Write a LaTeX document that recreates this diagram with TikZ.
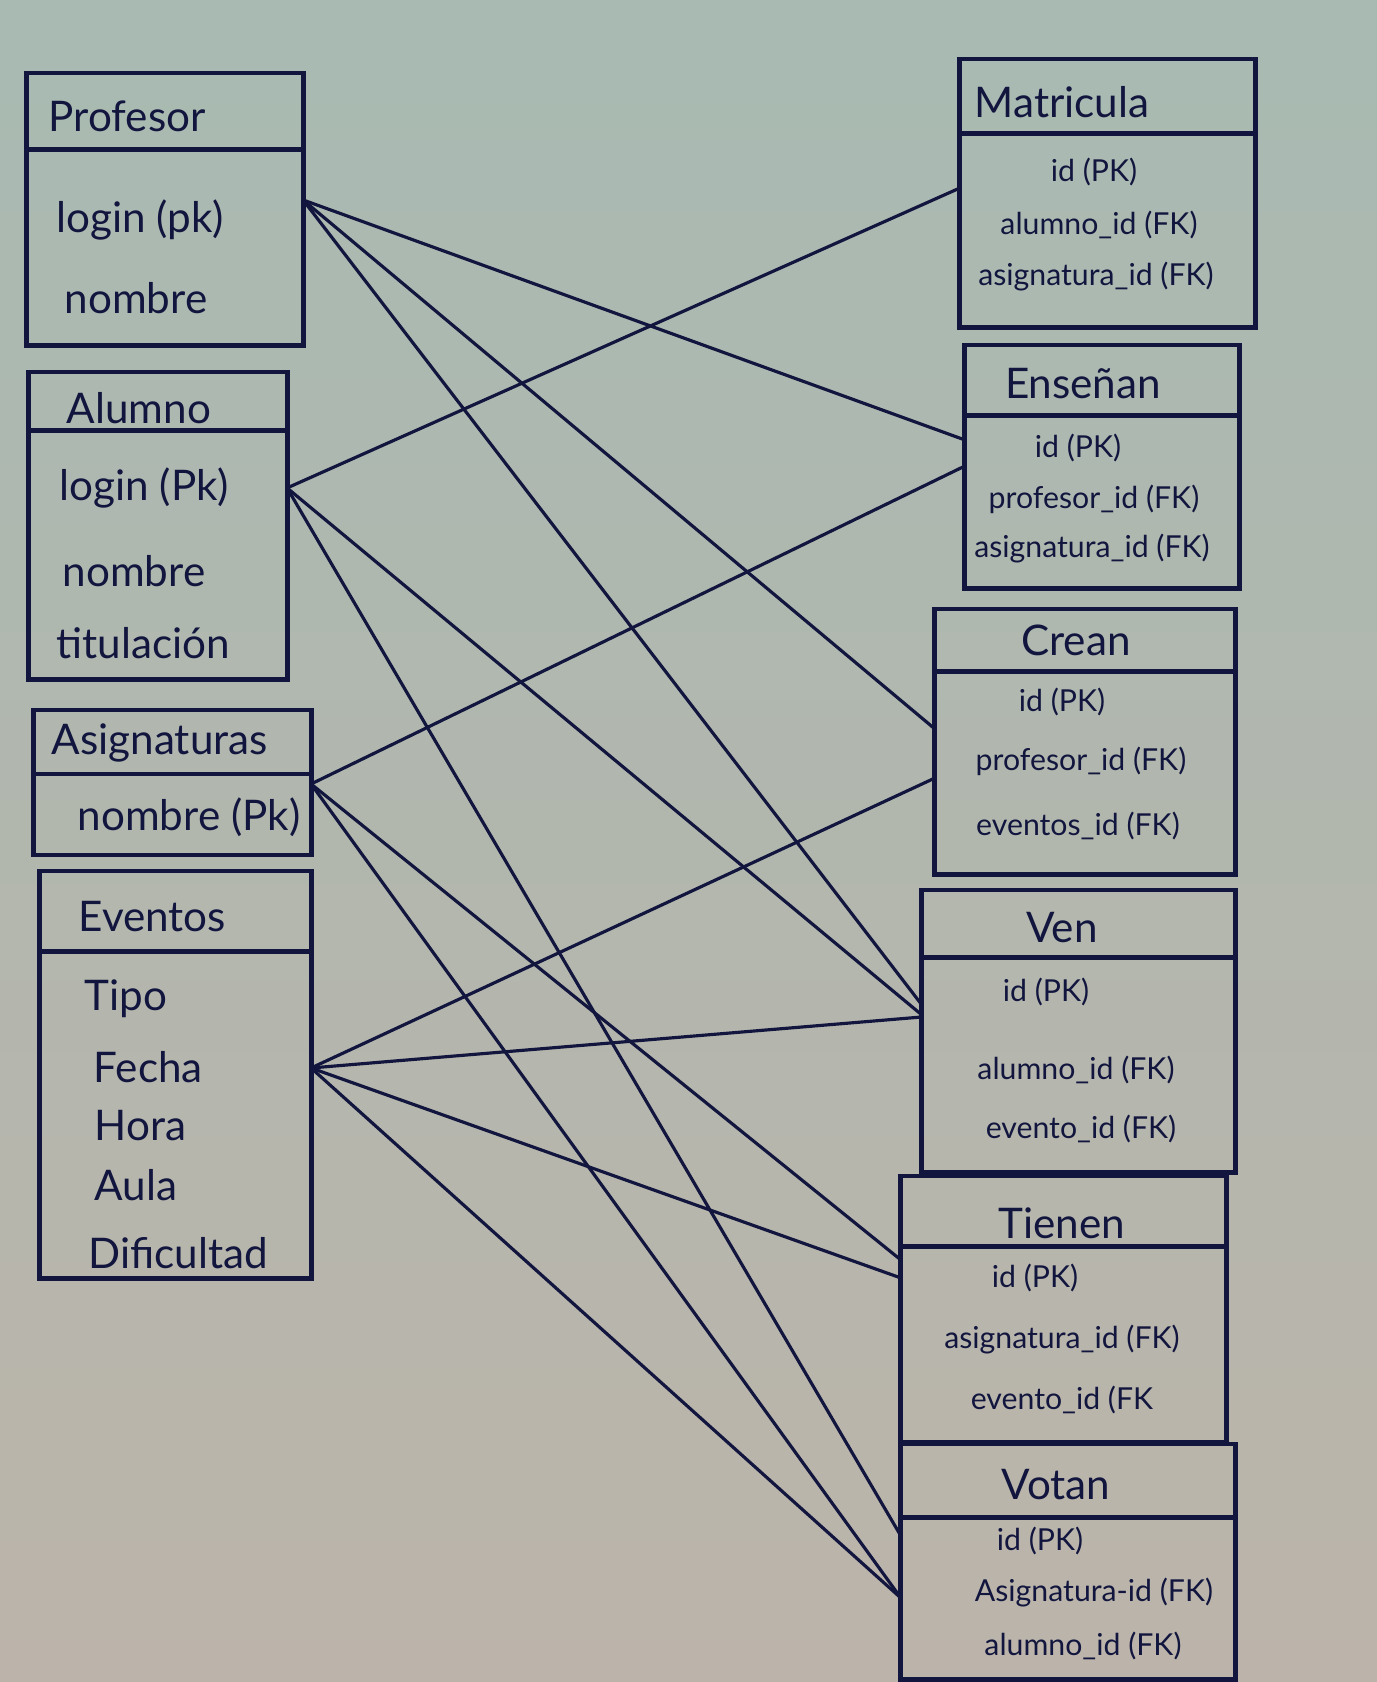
\documentclass[tikz,border=0pt]{standalone}
\usepackage{fontspec}
\setmainfont{Lato}
\definecolor{ink}{RGB}{18,22,62}
\definecolor{papertop}{RGB}{168,186,178}
\definecolor{paperlow}{RGB}{188,180,170}
\begin{document}
\begin{tikzpicture}[x=0.01cm, y=-0.01cm,
  tbl/.style={draw=ink, line width=1.4pt, rectangle, inner sep=0pt, outer sep=0pt},
  ttl/.style={text=ink, font=\fontsize{12}{14}\selectfont, inner sep=0pt},
  lattr/.style={text=ink, font=\fontsize{12}{14}\selectfont, anchor=west, inner sep=0pt},
  rattr/.style={text=ink, font=\fontsize{8.6}{10}\selectfont, inner sep=0pt},
  rel/.style={-, ink, line width=0.9pt}
]
\useasboundingbox (0,0) rectangle (1377,1682);
\fill[top color=papertop, bottom color=paperlow] (0,0) rectangle (1377,1682);

\node[tbl, minimum width=2.76cm, minimum height=0.77cm] (profh) at (165,111.5) {};
\node[tbl, minimum width=2.76cm, minimum height=1.95cm] (profb) at (165,247.5) {};
\node[ttl, anchor=west] (proft) at (48,116) {Profesor};
\node[lattr] (plogin) at (56,220) {login (pk)};
\node[lattr] (pnombre) at (64,298) {nombre};

\node[tbl, minimum width=2.58cm, minimum height=0.59cm] (alumh) at (158,401.5) {};
\node[tbl, minimum width=2.58cm, minimum height=2.48cm] (alumb) at (158,555) {};
\node[ttl, anchor=west] (alumt) at (66,408) {Alumno};
\node[lattr] (alogin) at (59,488) {login (Pk)};
\node[lattr] (anombre) at (62,571) {nombre};
\node[lattr] (atitul) at (56,643) {titulación};

\node[tbl, minimum width=2.77cm, minimum height=0.64cm] (asigh) at (172.5,742) {};
\node[tbl, minimum width=2.77cm, minimum height=0.81cm] (asigb) at (172.5,814.5) {};
\node[ttl, anchor=west] (asigt) at (51,743) {Asignaturas};
\node[lattr] (snombre) at (77,817) {nombre (Pk)};

\node[tbl, minimum width=2.71cm, minimum height=0.81cm] (evth) at (175.5,911.5) {};
\node[tbl, minimum width=2.71cm, minimum height=3.26cm] (evtb) at (175.5,1115) {};
\node[ttl, anchor=west] (evtt) at (78,917) {Eventos};
\node[lattr] (etipo) at (84,999) {Tipo};
\node[lattr] (efecha) at (93,1067) {Fecha};
\node[lattr] (ehora) at (94,1126) {Hora};
\node[lattr] (eaula) at (94,1185) {Aula};
\node[lattr] (edific) at (88,1253) {Dificultad};

\node[tbl, minimum width=2.95cm, minimum height=0.75cm] (math) at (1107.5,96.5) {};
\node[tbl, minimum width=2.95cm, minimum height=1.93cm] (matb) at (1107.5,230.5) {};
\node[ttl, anchor=west] (matt) at (974,102) {Matricula};
\node[rattr] (mid) at (1094,172) {id (PK)};
\node[rattr] (malum) at (1099,225) {alumno\_id (FK)};
\node[rattr] (masig) at (1096,277) {asignatura\_id (FK)};

\node[tbl, minimum width=2.74cm, minimum height=0.71cm] (ensh) at (1102,380.5) {};
\node[tbl, minimum width=2.74cm, minimum height=1.72cm] (ensb) at (1102,502) {};
\node[ttl] (enst) at (1083,384) {Enseñan};
\node[rattr] (nid) at (1078,448) {id (PK)};
\node[rattr] (nprof) at (1094,499) {profesor\_id (FK)};
\node[rattr] (nasig) at (1092,549) {asignatura\_id (FK)};

\node[tbl, minimum width=3.00cm, minimum height=0.63cm] (creh) at (1085,640.5) {};
\node[tbl, minimum width=3.00cm, minimum height=2.02cm] (creb) at (1085,773) {};
\node[ttl] (cret) at (1076,640) {Crean};
\node[rattr] (cid) at (1062,702) {id (PK)};
\node[rattr] (cprof) at (1081,761) {profesor\_id (FK)};
\node[rattr] (cevt) at (1078,826) {eventos\_id (FK)};

\node[tbl, minimum width=3.13cm, minimum height=0.68cm] (venh) at (1078.5,924) {};
\node[tbl, minimum width=3.13cm, minimum height=2.14cm] (venb) at (1078.5,1065) {};
\node[ttl] (vent) at (1062,928) {Ven};
\node[rattr] (vid) at (1046,992) {id (PK)};
\node[rattr] (valum) at (1076,1070) {alumno\_id (FK)};
\node[rattr] (vevt) at (1081,1129) {evento\_id (FK)};

\node[tbl, minimum width=3.25cm, minimum height=0.71cm] (tieh) at (1063.5,1211.5) {};
\node[tbl, minimum width=3.25cm, minimum height=1.95cm] (tieb) at (1063.5,1344.5) {};
\node[ttl] (tiet) at (1062,1223) {Tienen};
\node[rattr] (tid) at (1035,1278) {id (PK)};
\node[rattr] (tasig) at (1062,1340) {asignatura\_id (FK)};
\node[rattr] (tevt) at (1062,1400) {evento\_id (FK};

\node[tbl, minimum width=3.34cm, minimum height=0.73cm] (voth) at (1068,1480.5) {};
\node[tbl, minimum width=3.34cm, minimum height=1.62cm] (votb) at (1068,1598) {};
\node[ttl] (vott) at (1056,1485) {Votan};
\node[rattr] (oid) at (1040,1541) {id (PK)};
\node[rattr] (oasig) at (1094,1593) {Asignatura-id (FK)};
\node[rattr] (oalum) at (1083,1646) {alumno\_id (FK)};

\coordinate (profout) at ([yshift=-0.50cm]profb.north east);
\coordinate (alumout) at ([yshift=-0.57cm]alumb.north east);
\coordinate (asigout) at ([yshift=-0.10cm]asigb.north east);
\coordinate (evtout) at ([yshift=-1.16cm]evtb.north east);

\draw[rel] (profout) -- ([yshift=-0.24cm]ensb.north west);
\draw[rel] (profout) -- ([yshift=-0.57cm]creb.north west);
\draw[rel] (profout) -- ([yshift=-0.47cm]venb.north west);
\draw[rel] (alumout) -- ([yshift=-0.54cm]matb.north west);
\draw[rel] (alumout) -- ([yshift=-0.57cm]venb.north west);
\draw[rel] (alumout) -- ([yshift=-0.19cm]votb.north west);
\draw[rel] (asigout) -- ([yshift=-0.50cm]ensb.north west);
\draw[rel] (asigout) -- ([yshift=-0.13cm]tieb.north west);
\draw[rel] (asigout) -- ([yshift=-0.81cm]votb.north west);
\draw[rel] (evtout) -- ([yshift=-1.06cm]creb.north west);
\draw[rel] (evtout) -- ([yshift=-0.59cm]venb.north west);
\draw[rel] (evtout) -- ([yshift=-0.31cm]tieb.north west);
\draw[rel] (evtout) -- ([yshift=-0.81cm]votb.north west);
\end{tikzpicture}
\end{document}
